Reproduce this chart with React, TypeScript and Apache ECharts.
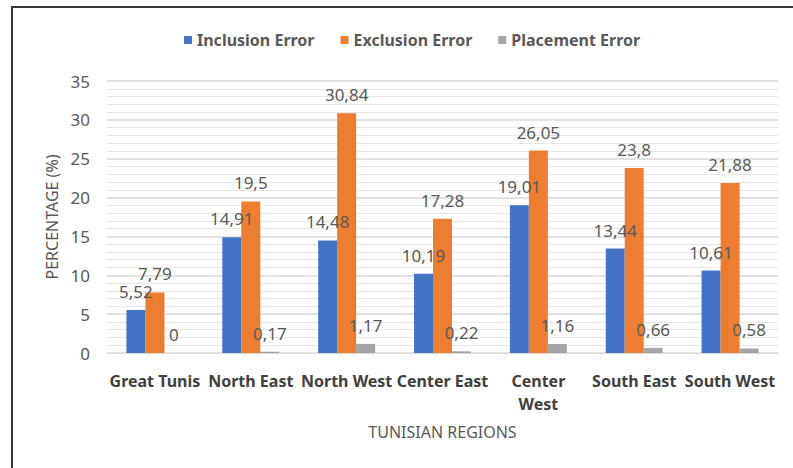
import React, { useEffect, useRef } from "react";
import * as echarts from "echarts";

const categories = ["Great Tunis", "North East", "North West", "Center East", "Center\nWest", "South East", "South West"];
const inclusionError = [5.52, 14.91, 14.48, 10.19, 19.01, 13.44, 10.61];
const exclusionError = [7.79, 19.5, 30.84, 17.28, 26.05, 23.8, 21.88];
const placementError = [0, 0.17, 1.17, 0.22, 1.16, 0.66, 0.58];
const seriesNames = ["Inclusion Error", "Exclusion Error", "Placement Error"];
const colors = ["#4472C4", "#ED7D31", "#A5A5A5"];

const FONT = "'Noto Sans', 'Open Sans', sans-serif";

export default function App() {
  const ref = useRef<HTMLDivElement>(null);
  useEffect(() => {
    if (!ref.current) return;
    const chart = echarts.init(ref.current, undefined, { renderer: "svg" });
    const fmt = (p: any) => String(p.value).replace(".", ",");
    const mk = (name: string, data: number[], color: string) => ({
      name,
      type: "bar",
      data,
      barWidth: 19,
      barGap: "0%",
      itemStyle: { color },
      label: {
        show: true,
        position: "top",
        distance: 10,
        formatter: fmt,
        fontSize: 17,
        color: "#595959",
        fontFamily: FONT,
      },
    });
    chart.setOption({
      animation: false,
      backgroundColor: "#ffffff",
      textStyle: { fontFamily: FONT },
      color: colors,
      legend: {
        data: seriesNames,
        top: 27,
        left: 179,
        icon: "rect",
        itemWidth: 8,
        itemHeight: 8,
        itemGap: 26,
        textStyle: { fontSize: 16, fontWeight: "bold", color: "#595959", fontFamily: FONT },
      },
      grid: { left: 107, right: 15, top: 81, bottom: 115, containLabel: false },
      xAxis: {
        type: "category",
        data: categories,
        axisLine: { lineStyle: { color: "#d9d9d9", width: 1 } },
        axisTick: { show: false },
        axisLabel: {
          interval: 0,
          fontSize: 16,
          fontWeight: "bold",
          color: "#404040",
          margin: 16,
          lineHeight: 23,
          fontFamily: FONT,
        },
        name: "TUNISIAN REGIONS",
        nameLocation: "middle",
        nameGap: 71,
        nameTextStyle: { fontSize: 16, color: "#595959", fontFamily: FONT },
      },
      yAxis: {
        type: "value",
        min: 0,
        max: 35,
        interval: 5,
        axisLine: { show: false },
        axisTick: { show: false },
        axisLabel: { fontSize: 17, color: "#595959", margin: 17, fontFamily: FONT },
        splitLine: { lineStyle: { color: "#d9d9d9", width: 1.5 } },
        minorTick: { show: false, splitNumber: 5 },
        minorSplitLine: { show: true, lineStyle: { color: "#e6e6e6", width: 1 } },
        name: "PERCENTAGE (%)",
        nameLocation: "middle",
        nameRotate: 90,
        nameGap: 46,
        nameTextStyle: { fontSize: 16, color: "#595959", fontFamily: FONT },
      },
      graphic: [
        { type: "line", shape: { x1: 12, y1: 7, x2: 793, y2: 7 }, style: { stroke: "#3a3a3a", lineWidth: 2 } },
        { type: "line", shape: { x1: 12, y1: 6, x2: 12, y2: 468 }, style: { stroke: "#3a3a3a", lineWidth: 2 } },
      ],
      series: [
        mk(seriesNames[0], inclusionError, colors[0]),
        mk(seriesNames[1], exclusionError, colors[1]),
        mk(seriesNames[2], placementError, colors[2]),
      ],
    });
    return () => chart.dispose();
  }, []);
  return <div ref={ref} style={{ position: "absolute", left: 0, top: 0, width: 793, height: 468 }} />;
}
